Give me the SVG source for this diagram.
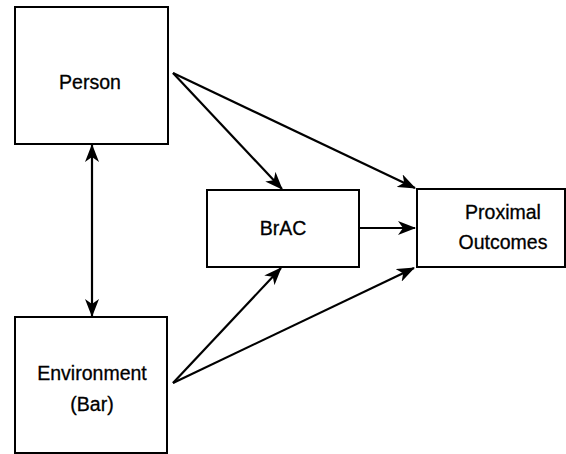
<svg xmlns="http://www.w3.org/2000/svg" width="566" height="454" viewBox="0 0 566 454">
<style>
.box{fill:#fff;stroke:#000;stroke-width:2}
.lbl{font-family:"Liberation Sans",Arial,sans-serif;font-size:19.5px;fill:#000;text-anchor:middle;stroke:#000;stroke-width:0.3}
.arr{stroke:#000;stroke-width:2.2;fill:none;marker-end:url(#ah)}
</style>
<defs>
<marker id="ah" viewBox="0 0 18 14" refX="17" refY="7" markerWidth="18" markerHeight="14" markerUnits="userSpaceOnUse" orient="auto-start-reverse">
<path d="M0,0 L18,7 L0,14 L5,7 z" fill="#000"/>
</marker>
</defs>
<rect width="566" height="454" fill="#fff"/>
<g id="person"><rect class="box" x="15" y="7" width="153" height="137"/><text class="lbl" x="90" y="89">Person</text></g>
<g id="environment"><rect class="box" x="15" y="317" width="152" height="136"/><text class="lbl" x="92" y="380">Environment</text><text class="lbl" x="92" y="411">(Bar)</text></g>
<g id="brac"><rect class="box" x="207" y="190" width="152" height="77"/><text class="lbl" x="283" y="235">BrAC</text></g>
<g id="proximal"><rect class="box" x="417" y="189" width="148" height="78"/><text class="lbl" x="503" y="219">Proximal</text><text class="lbl" x="503" y="249">Outcomes</text></g>
<g id="connectors">
<line class="arr" x1="92" y1="316" x2="92" y2="145" style="marker-start:url(#ah)"/>
<line class="arr" x1="173" y1="73" x2="282" y2="189"/>
<line class="arr" x1="173" y1="73" x2="415" y2="188"/>
<line class="arr" x1="360" y1="228" x2="415" y2="228"/>
<line class="arr" x1="173" y1="383" x2="281" y2="268"/>
<line class="arr" x1="173" y1="383" x2="414" y2="268"/>
</g>
</svg>
